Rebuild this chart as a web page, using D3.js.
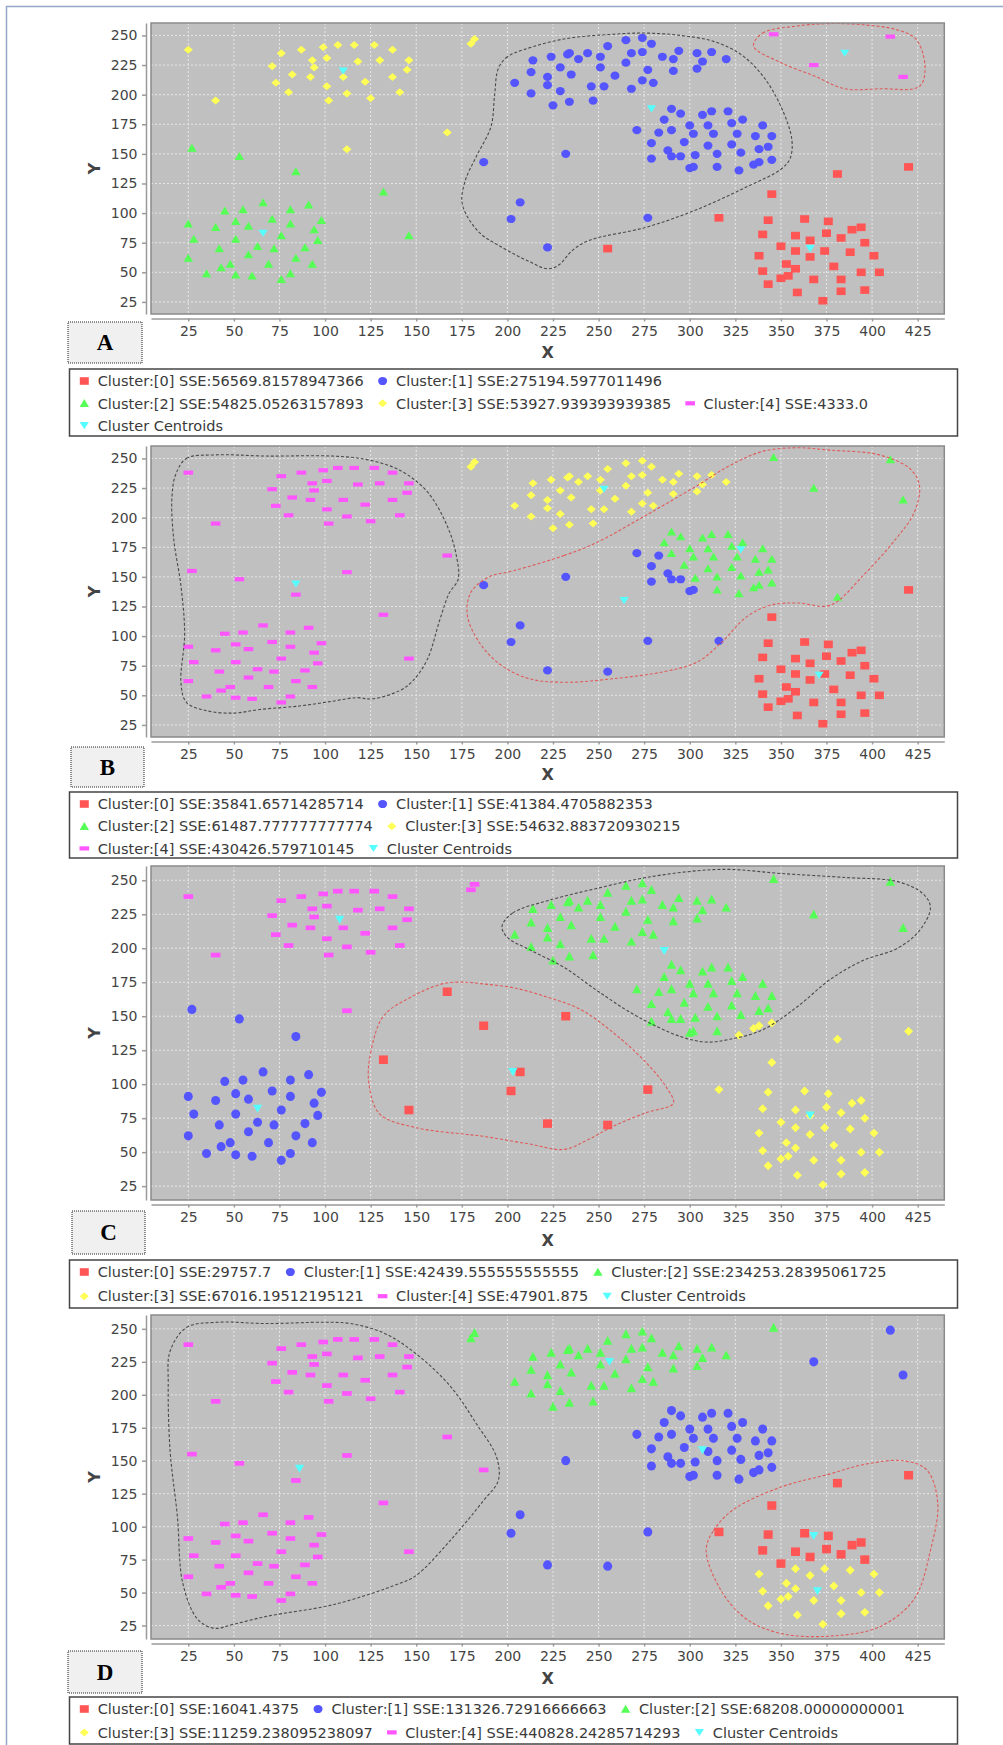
<!DOCTYPE html>
<html>
<head>
<meta charset="utf-8">
<script src="https://d3js.org/d3.v7.min.js"></script>
<style>
    body { margin: 0; background: #fff; }
    svg text { font-family: "DejaVu Sans", sans-serif; }
    .tick text { font-size: 14px; fill: #444; }
    .tick line, .domain { stroke: #9a9a9a; stroke-width: 1.5px; }
    .legend-text { font-size: 14.5px; fill: #3a3a3a; }
    .axis-title { font-size: 16px; font-weight: bold; fill: #444; }
    .panel-letter { font-family: "Liberation Serif", serif; font-size: 23px; font-weight: bold; fill: #000; }
    .grid { stroke: #e6e6e6; stroke-width: 1px; stroke-dasharray: 2,2; }
</style>
</head>
<body>
<script>
    // ---- data: the same 200 points are drawn in every panel ----
    var upperLeft = [[25,238],[40,195],[71,224],[76,235],[73,210],[82,217],[80,202],[87,238],[93,229],[94,223],
        [92,215],[99,240],[101,231],[101,207],[102,195],[107,242],[110,215],[112,201],[116,242],[118,228],
        [122,211],[125,197],[127,242],[130,229],[137,238],[137,215],[141,202],[145,221],[146,229],[112,154],
        [167,168],[180,243],[182,247]];
    var lowerLeft = [[27,155],[53,148],[84,135],[132,118],[146,81],
        [25,91],[28,78],[25,62],[35,49],[40,88],[42,70],[43,54],[45,102],[48,57],[51,48],
        [51,93],[51,78],[55,103],[58,89],[58,65],[60,47],[63,72],[66,109],[69,57],[71,95],
        [72,70],[76,81],[76,44],[81,103],[81,91],[81,49],[84,62],[89,71],[91,107],[93,57],
        [94,86],[96,77],[98,94]];
    var topMid = [[214,229],[213,219],[204,210],[213,201],[222,215],[222,208],[224,232],[229,223],[229,203],[225,191],
        [234,194],[233,234],[234,235],[235,217],[239,230],[244,235],[246,207],[247,195],[251,232],[251,223],
        [253,207],[255,241],[259,216],[265,246],[265,227],[268,235],[268,205],[274,236],[274,212],[274,248],
        [277,221],[279,243],[280,210],[285,232],[291,230],[291,220],[294,237],[304,235],[304,222],[307,228],
        [312,236],[320,230]];
    var midRight = [[290,188],[295,184],[286,179],[307,183],[312,186],[321,186],[329,179],[323,176],[300,174],[310,174],
        [340,174],[271,170],[283,168],[290,170],[302,167],[313,167],[326,167],[336,165],[345,165],[279,159],
        [297,160],[310,157],[323,158],[338,154],[343,156],[288,153],[290,148],[295,148],[303,149],[315,150],
        [328,151],[279,146],[300,138],[302,139],[315,139],[327,136],[335,141],[338,143],[345,145]];
    var scatterMid = [[187,143],[232,150],[207,109],[202,95],[277,96],[222,71]];
    var lowerRight = [[420,139],[381,133],[345,116],[316,96],[255,70],
        [343,94],[363,95],[376,93],[340,82],[358,81],[366,77],[375,83],[383,79],[389,86],[394,88],
        [396,75],[350,72],[358,68],[366,63],[374,68],[388,67],[401,64],[338,64],[353,57],[358,53],
        [379,55],[340,51],[394,50],[404,50],[354,47],[350,45],[368,44],[383,44],[343,40],[383,34],
        [396,35],[359,33],[373,26]];
    var topRight = [[346,251],[410,249],[368,225],[417,215]];

    var groups = [upperLeft, lowerLeft, topMid, midRight, scatterMid, lowerRight, topRight];

    // cluster of each point, one string per group (same order as groups)
    var clustersA = [
        "3333333333" + "3333333333" + "3333333333" + "333",
        "2222222222" + "2222222222" + "2222222222" + "22222222",
        "1111111111" + "1111111111" + "1111111111" + "1111111111" + "11",
        "1111111111" + "1111111111" + "1111111111" + "111111111",
        "111111",
        "0000000000" + "0000000000" + "0000000000" + "00000000",
        "4444"];
    var clustersB = [
        "4444444444" + "4444444444" + "4444444444" + "4" + "33",
        "4444444444" + "4444444444" + "4444444444" + "44444444",
        "3333333333" + "3333333333" + "3333333333" + "3333333333" + "33",
        "22222222222" + "11" + "222222" + "1" + "22222" + "111" + "222" + "111" + "2" + "2222",
        "111111",
        "02011" + "0000000000" + "0000000000" + "0000000000" + "000",
        "2222"];
    var clustersC = [
        "4444444444" + "4444444444" + "4444444444" + "0" + "44",
        "11100" + "1111111111" + "1111111111" + "1111111111" + "111",
        "2222222222" + "2222222222" + "2222222222" + "2222222222" + "22",
        "2222222222" + "2222222222" + "2222222222" + "22222" + "3333",
        "000000",
        "33330" + "3333333333" + "3333333333" + "3333333333" + "333",
        "2222"];
    var clustersD = [
        "4444444444" + "4444444444" + "4444444444" + "4" + "22",
        "4444444444" + "4444444444" + "4444444444" + "44444444",
        "2222222222" + "2222222222" + "2222222222" + "2222222222" + "22",
        "1111111111" + "1111111111" + "1111111111" + "111111111",
        "411111",
        "00001" + "000000000000" + "333333333333333333333",
        "2111"];

    // centroids, cluster 0..4
    var centroidsA = [[366,70],[279,188],[66,83],[110,220],[385,235]];
    var centroidsB = [[371,67],[264,130],[328,173],[253,224],[84,144]];
    var centroidsC = [[203,109],[63,82],[286,198],[366,77],[108,221]];
    var centroidsD = [[368,93],[307,158],[256,225],[370,51],[86,144]];

    var sseA = ["56569.81578947366", "275194.5977011496", "54825.05263157893", "53927.939393939385", "4333.0"];
    var sseB = ["35841.65714285714", "41384.4705882353", "61487.777777777774", "54632.883720930215", "430426.579710145"];
    var sseC = ["29757.7", "42439.555555555555", "234253.28395061725", "67016.19512195121", "47901.875"];
    var sseD = ["16041.4375", "131326.72916666663", "68208.00000000001", "11259.238095238097", "440828.24285714293"];

    // hand drawn outlines (data units)
    var outlineA1 = [[209,238],[200,232],[195,222],[193,200],[191,173],[183,148],[177,128],[175,111],[177,100],[185,83],
        [196,72],[212,59],[222,53],[228,56],[236,69],[245,77],[276,88],[304,103],[331,122],[350,137],
        [355,146],[356,162],[350,190],[340,216],[328,234],[313,245],[295,250],[276,252],[258,251],[231,247]];
    var outlineA2 = [[335,241],[340,252],[359,258],[377,260],[395,259],[413,255],[424,247],[429,224],[426,207],[404,205],
        [385,205],[368,216],[350,227]];
    var outlineB1 = [[18,236],[24,250],[40,253],[68,252],[104,252],[123,249],[141,240],[156,222],[167,193],[172,168],
        [173,148],[168,136],[163,114],[156,80],[148,62],[141,54],[126,47],[117,48],[104,45],[86,41],
        [64,38],[50,35],[35,37],[24,44],[21,60],[23,102],[21,142],[17,182],[16,216]];
    var outlineB2 = [[203,155],[231,168],[249,179],[276,202],[304,227],[322,244],[340,256],[359,259],[377,257],[404,253],
        [421,241],[426,227],[423,204],[413,182],[395,151],[377,126],[359,128],[344,126],[331,116],[317,94],
        [304,78],[286,70],[258,64],[231,61],[212,64],[196,76],[184,96],[178,118],[180,137],[190,150]];
    var outlineC1 = [[197,216],[203,226],[222,235],[249,244],[276,252],[304,257],[322,258],[350,255],[386,252],[414,249],
        [428,240],[432,230],[426,213],[414,200],[395,191],[377,177],[359,157],[340,140],[322,133],[309,131],
        [295,135],[271,150],[249,169],[231,186],[212,199],[200,208]];
    var outlineC2 = [[124,101],[125,123],[132,150],[147,164],[165,174],[178,175],[185,174],[203,171],[222,164],[240,155],
        [258,138],[276,116],[287,98],[291,86],[276,79],[258,69],[244,59],[231,52],[212,56],[185,62],
        [178,63],[150,68],[130,78]];
    var outlineD1 = [[15,233],[24,251],[41,255],[68,254],[99,255],[114,254],[132,247],[150,231],[169,206],[183,178],
        [194,153],[195,135],[187,120],[169,90],[150,63],[141,57],[105,41],[68,32],[50,26],[39,23],
        [30,30],[22,57],[19,108],[15,158],[14,208]];
    var outlineD2 = [[309,82],[313,97],[324,113],[350,130],[377,140],[395,147],[417,150],[430,143],[436,118],[432,82],
        [423,45],[404,24],[377,17],[350,19],[331,30],[317,52]];

    var xTicks = [25,50,75,100,125,150,175,200,225,250,275,300,325,350,375,400,425];
    var yTicks = [25,50,75,100,125,150,175,200,225,250];

    // ---- layout ----
    var colors = ["#ff5555", "#5555ff", "#55ff55", "#ffff55", "#ff55ff"];
    var centroidColor = "#55ffff";

    var panels = [
        {letter: "A", top: 23, bottom: 314, box: [68, 322, 74, 41], xTitle: 352, legTop: 369, legBottom: 436, rowGap: 22.3, sy: 1,
            clusters: clustersA, centroids: centroidsA, sse: sseA, outlines: [[outlineA1, "#4a4a4a"], [outlineA2, "#e05a5a"]]},
        {letter: "B", top: 446, bottom: 737, box: [71, 747, 73, 40], xTitle: 774, legTop: 792, legBottom: 858, rowGap: 22.2, sy: 1,
            clusters: clustersB, centroids: centroidsB, sse: sseB, outlines: [[outlineB1, "#4a4a4a"], [outlineB2, "#e05a5a"]]},
        {letter: "C", top: 866, bottom: 1200, box: [72, 1211, 73, 43], xTitle: 1240, legTop: 1260, legBottom: 1308, rowGap: 24.2, sy: 1.12,
            clusters: clustersC, centroids: centroidsC, sse: sseC, outlines: [[outlineC1, "#4a4a4a"], [outlineC2, "#e05a5a"]]},
        {letter: "D", top: 1315, bottom: 1639, box: [68, 1651, 74, 42], xTitle: 1678, legTop: 1697, legBottom: 1744, rowGap: 23.4, sy: 1.12,
            clusters: clustersD, centroids: centroidsD, sse: sseD, outlines: [[outlineD1, "#4a4a4a"], [outlineD2, "#e05a5a"]]}
    ];

    var plotLeft = 151, plotRight = 944.3;
    var x = d3.scaleLinear().domain([4.55, 439.6]).range([plotLeft, plotRight]);

    var svg = d3.select("body").append("svg")
        .attr("width", 1003)
        .attr("height", 1745);

    // thin frame of the screenshot
    svg.append("line").attr("x1", 6).attr("x2", 1003).attr("y1", 6.5).attr("y2", 6.5)
        .style("stroke", "#93a9c8").style("stroke-width", 1.5);
    svg.append("line").attr("x1", 6.5).attr("x2", 6.5).attr("y1", 6).attr("y2", 1745)
        .style("stroke", "#93a9c8").style("stroke-width", 1.5);

    // marker shapes: square, circle, up triangle, diamond, flat bar, centroid (down triangle)
    function shapePath(k, sy) {
        function v(n) { return (n * sy).toFixed(2); }
        if (k === 0) return "M-4.5," + v(-3.8) + "H4.5V" + v(3.8) + "H-4.5Z";
        if (k === 1) return "M-4.5,0A4.5," + v(4.1) + " 0 1,0 4.5,0A4.5," + v(4.1) + " 0 1,0 -4.5,0Z";
        if (k === 2) return "M0," + v(-4.3) + "L4.7," + v(3.7) + "H-4.7Z";
        if (k === 3) return "M0," + v(-4) + "L4.5,0L0," + v(4) + "L-4.5,0Z";
        if (k === 4) return "M-4.8," + v(-2.1) + "H4.8V" + v(2.1) + "H-4.8Z";
        return "M-4.6," + v(-3.5) + "H4.6L0," + v(3.6) + "Z";
    }

    panels.forEach(function(p, pi) {
        var y = d3.scaleLinear().domain([14.8, 260.5]).range([p.bottom, p.top]);
        var g = svg.append("g");

        // plot background
        g.append("rect")
            .attr("x", plotLeft).attr("y", p.top)
            .attr("width", plotRight - plotLeft).attr("height", p.bottom - p.top)
            .style("fill", "#c0c0c0");

        // grid
        g.selectAll(".gx").data(xTicks).enter().append("line")
            .attr("class", "grid")
            .attr("x1", function(d) { return x(d); }).attr("x2", function(d) { return x(d); })
            .attr("y1", p.top).attr("y2", p.bottom);
        g.selectAll(".gy").data(yTicks).enter().append("line")
            .attr("class", "grid")
            .attr("x1", plotLeft).attr("x2", plotRight)
            .attr("y1", function(d) { return y(d); }).attr("y2", function(d) { return y(d); });

        // points
        var pts = [];
        groups.forEach(function(grp, gi) {
            grp.forEach(function(d, i) {
                pts.push({x: d[0], y: d[1], c: +p.clusters[gi][i]});
            });
        });
        pts.sort(function(a, b) { return a.c - b.c; });
        g.selectAll(".pt").data(pts).enter().append("path")
            .attr("transform", function(d) { return "translate(" + x(d.x) + "," + y(d.y) + ")"; })
            .attr("d", function(d) { return shapePath(d.c, p.sy); })
            .style("fill", function(d) { return colors[d.c]; });

        // centroids
        g.selectAll(".ct").data(p.centroids).enter().append("path")
            .attr("transform", function(d) { return "translate(" + x(d[0]) + "," + y(d[1]) + ")"; })
            .attr("d", shapePath(5, p.sy))
            .style("fill", centroidColor);

        // dashed outlines around clusters
        var clipId = "clip" + pi;
        g.append("clipPath").attr("id", clipId).append("rect")
            .attr("x", plotLeft).attr("y", p.top)
            .attr("width", plotRight - plotLeft).attr("height", p.bottom - p.top);
        var outline = d3.line()
            .x(function(d) { return x(d[0]); })
            .y(function(d) { return y(d[1]); })
            .curve(d3.curveCatmullRomClosed.alpha(0.5));
        p.outlines.forEach(function(o) {
            g.append("path")
                .attr("d", outline(o[0]))
                .attr("clip-path", "url(#" + clipId + ")")
                .style("fill", "none")
                .style("stroke", o[1])
                .style("stroke-width", 1.1)
                .style("stroke-dasharray", "3,2");
        });

        // plot border
        g.append("rect")
            .attr("x", plotLeft).attr("y", p.top)
            .attr("width", plotRight - plotLeft).attr("height", p.bottom - p.top)
            .style("fill", "none").style("stroke", "#8a8a8a").style("stroke-width", 1.5);

        // axes
        g.append("g")
            .attr("transform", "translate(146,0)")
            .call(d3.axisLeft(y).tickValues(yTicks).tickSize(4).tickSizeOuter(0).tickPadding(4.5));
        g.append("g")
            .attr("transform", "translate(0," + (p.bottom + 4.5) + ")")
            .call(d3.axisBottom(x).tickValues(xTicks).tickSize(3).tickSizeOuter(0).tickPadding(5));

        g.append("text")
            .attr("class", "axis-title")
            .attr("x", (plotLeft + plotRight) / 2)
            .attr("y", p.xTitle)
            .attr("dy", "0.36em")
            .attr("text-anchor", "middle")
            .text("X");
        g.append("text")
            .attr("class", "axis-title")
            .attr("transform", "translate(94," + ((p.top + p.bottom) / 2) + ") rotate(-90)")
            .attr("dy", "0.36em")
            .attr("text-anchor", "middle")
            .text("Y");

        // panel letter box
        g.append("rect")
            .attr("x", p.box[0]).attr("y", p.box[1])
            .attr("width", p.box[2]).attr("height", p.box[3])
            .style("fill", "#f0f0f0").style("stroke", "#222").style("stroke-width", 1)
            .style("stroke-dasharray", "1,1");
        g.append("text")
            .attr("class", "panel-letter")
            .attr("x", p.box[0] + p.box[2] / 2)
            .attr("y", p.box[1] + p.box[3] / 2)
            .attr("dy", "0.34em")
            .attr("text-anchor", "middle")
            .text(p.letter);

        // legend
        g.append("rect")
            .attr("x", 69.5).attr("y", p.legTop)
            .attr("width", 888).attr("height", p.legBottom - p.legTop)
            .style("fill", "#fff").style("stroke", "#444").style("stroke-width", 1.5);

        var items = p.sse.map(function(s, i) { return {k: i, label: "Cluster:[" + i + "] SSE:" + s}; });
        items.push({k: 5, label: "Cluster Centroids"});

        var sx = 84.3, row = 0;
        items.forEach(function(it) {
            var t = g.append("text").attr("class", "legend-text").text(it.label);
            var w = t.node().getComputedTextLength();
            if (sx + 13.4 + w > 948) { row += 1; sx = 84.3; }
            var cy = p.legTop + 12 + row * p.rowGap;
            t.attr("x", sx + 13.4).attr("y", cy).attr("dy", "0.36em");
            g.append("path")
                .attr("transform", "translate(" + sx + "," + cy + ")")
                .attr("d", shapePath(it.k, 1))
                .style("fill", it.k === 5 ? centroidColor : colors[it.k]);
            sx = sx + 13.4 + w + 19;
        });
    });
</script>
</body>
</html>
